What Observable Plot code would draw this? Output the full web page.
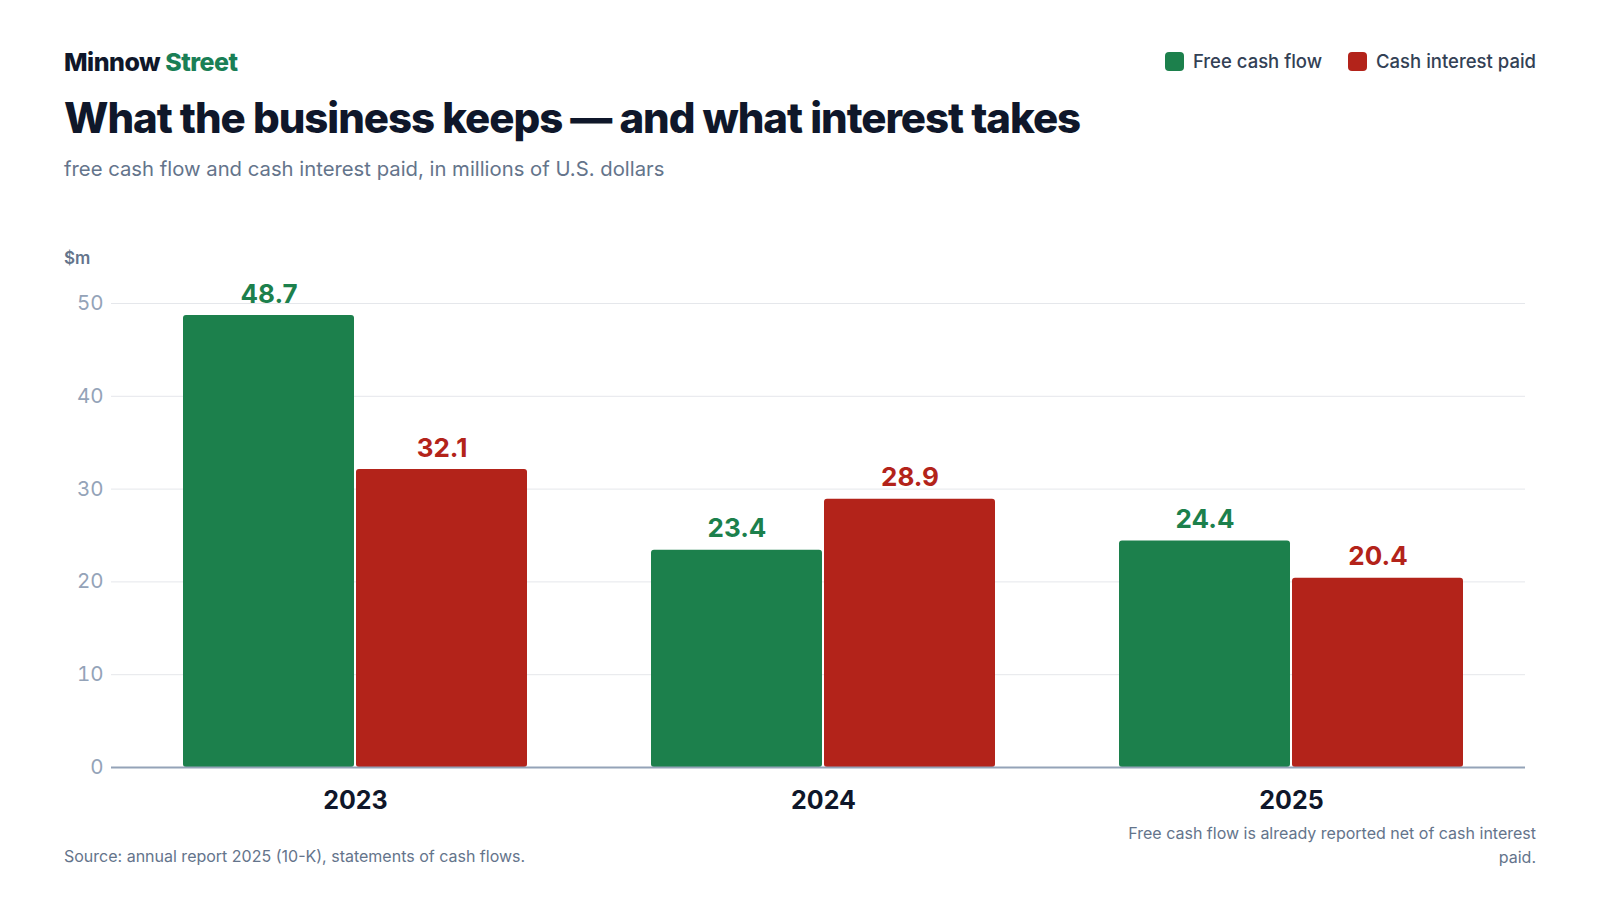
<!DOCTYPE html>
<html>
<head>
<meta charset="utf-8">
<script src="https://cdn.jsdelivr.net/npm/d3@7"></script>
<script src="https://cdn.jsdelivr.net/npm/@observablehq/plot@0.6"></script>
<style>
  html, body { margin: 0; padding: 0; background: #ffffff; }
  body { width: 1600px; height: 900px; position: relative; font-family: Inter, "Noto Sans", sans-serif; overflow: hidden; }
  .brand { position: absolute; left: 64px; top: 47px; font-size: 25px; font-weight: 800; letter-spacing: -0.02em; color: #0f172a; }
  .brand span { color: #1a7f56; }
  .title { position: absolute; left: 64px; top: 92px; font-size: 42px; font-weight: 800; letter-spacing: -0.025em; color: #0f172a; margin: 0; }
  .subtitle { position: absolute; left: 64px; top: 156px; font-size: 20.3px; font-weight: 400; color: #64748b; }
  .legend { position: absolute; right: 64px; top: 50px; display: flex; gap: 26px; font-size: 18.5px; font-weight: 500; color: #334155; }
  .legend .item { display: flex; align-items: center; gap: 9px; }
  .legend .sw { width: 19px; height: 19px; border-radius: 4px; display: inline-block; }
  .unit { position: absolute; left: 64px; top: 248px; font-size: 17px; font-weight: 600; color: #64748b; }
  #chart { position: absolute; left: 0; top: 230px; }
  .source { position: absolute; left: 64px; top: 846px; font-size: 16px; color: #64748b; }
  .note { position: absolute; right: 64px; top: 821px; width: 420px; text-align: right; font-size: 16px; line-height: 24px; color: #64748b; }
</style>
</head>
<body>
<div class="brand">Minnow <span>Street</span></div>
<h1 class="title">What the business keeps — and what interest takes</h1>
<div class="subtitle">free cash flow and cash interest paid, in millions of U.S. dollars</div>
<div class="legend" id="legend"></div>
<div class="unit">$m</div>
<div id="chart"></div>
<div class="source">Source: annual report 2025 (10-K), statements of cash flows.</div>
<div class="note">Free cash flow is already reported net of cash interest paid.</div>
<script>
const years = ["2023", "2024", "2025"];
const seriesNames = ["Free cash flow", "Cash interest paid"];
const seriesColors = ["#1c804c", "#b3231a"];
const freeCashFlow = [48.7, 23.4, 24.4];
const cashInterestPaid = [32.1, 28.9, 20.4];
const yTicks = [0, 10, 20, 30, 40, 50];

const data = [];
years.forEach((yr, i) => {
  data.push({year: yr, series: seriesNames[0], value: freeCashFlow[i]});
  data.push({year: yr, series: seriesNames[1], value: cashInterestPaid[i]});
});

// grid rows per facet (first facet's rules reach a little further left)
const gridFirst = yTicks.filter(t => t !== 0).map(t => ({year: years[0], v: t}));
const gridRest = years.slice(1).flatMap(yr => yTicks.filter(t => t !== 0).map(t => ({year: yr, v: t})));
const baseFirst = [{year: years[0], v: 0}];
const baseRest = years.slice(1).map(yr => ({year: yr, v: 0}));

const legend = document.getElementById("legend");
seriesNames.forEach((s, i) => {
  const it = document.createElement("div");
  it.className = "item";
  it.innerHTML = `<span class="sw" style="background:${seriesColors[i]}"></span><span>${s}</span>`;
  legend.appendChild(it);
});

const chart = Plot.plot({
  width: 1600,
  height: 597,
  marginTop: 73,
  marginBottom: 60,
  marginLeft: 120,
  marginRight: 74,
  style: {fontFamily: "Inter, 'Noto Sans', sans-serif", background: "transparent"},
  fx: {domain: years, padding: 0, label: null},
  x: {domain: seriesNames, paddingInner: 0.0115, paddingOuter: 0.3525, axis: null},
  y: {domain: [0, 50], ticks: yTicks, label: null},
  color: {domain: seriesNames, range: seriesColors},
  marks: [
    Plot.ruleY(gridFirst, {fx: "year", y: "v", insetLeft: -10, stroke: "#e5e7eb", strokeWidth: 1}),
    Plot.ruleY(gridRest, {fx: "year", y: "v", stroke: "#e5e7eb", strokeWidth: 1}),
    Plot.axisY(yTicks, {tickSize: 0, tickPadding: 18, fontSize: 20.5, fill: "#94a3b8", label: null}),
    Plot.axisFx({anchor: "bottom", tickSize: 0, tickPadding: 24, fontSize: 25, fontWeight: 700, fill: "#0f172a", label: null}),
    Plot.barY(data, {fx: "year", x: "series", y: "value", fill: "series", rx: 3}),
    Plot.text(data, {fx: "year", x: "series", y: "value", text: d => d.value.toFixed(1), fill: "series",
      dy: -13, lineAnchor: "bottom", fontSize: 26, fontWeight: 700}),
    Plot.ruleY(baseFirst, {fx: "year", y: "v", insetLeft: -10, stroke: "#94a3b8", strokeWidth: 2}),
    Plot.ruleY(baseRest, {fx: "year", y: "v", stroke: "#94a3b8", strokeWidth: 2})
  ]
});
document.getElementById("chart").appendChild(chart);
</script>
</body>
</html>
